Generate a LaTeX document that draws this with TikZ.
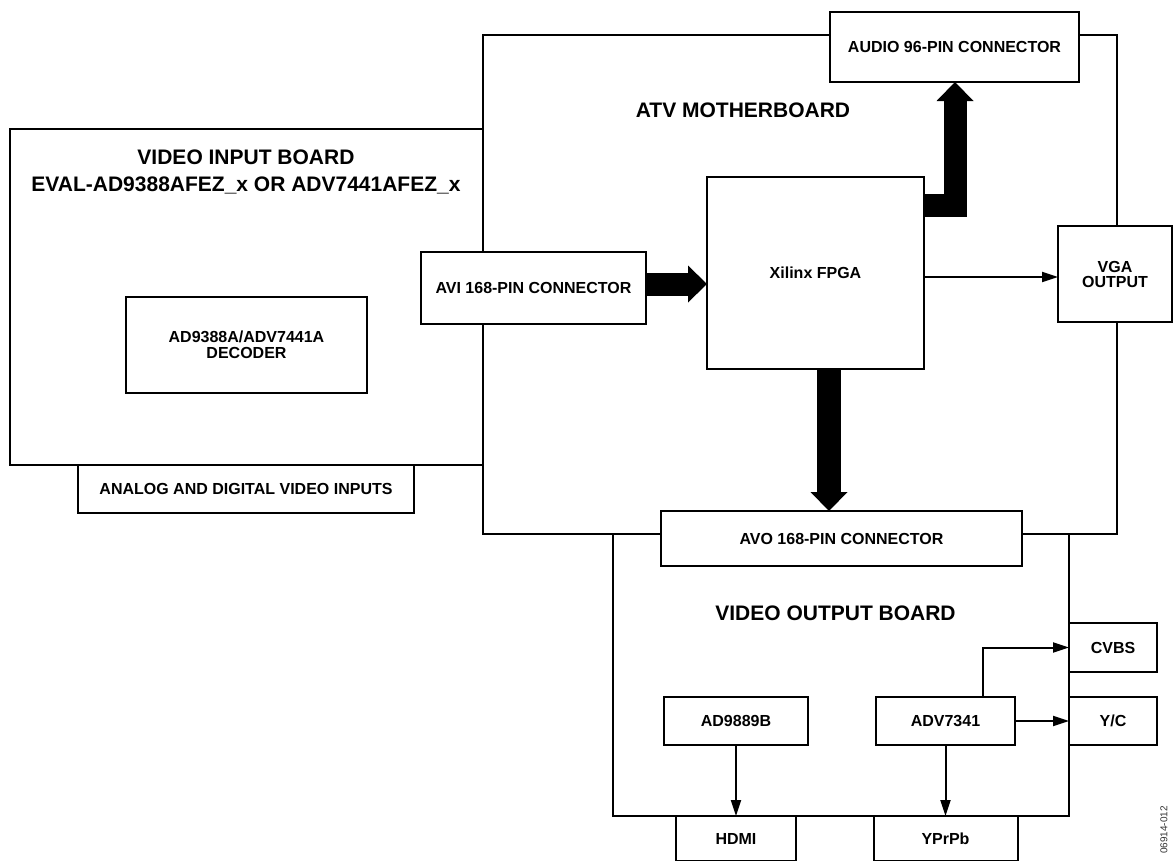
\documentclass[tikz,border=0pt]{standalone}
\usepackage{fontspec}
\setmainfont{Liberation Sans}
\usetikzlibrary{arrows.meta}
\newcommand\dgsmall{\fontsize{16}{16}\selectfont\bfseries}
\newcommand\dgbig{\fontsize{21}{27}\selectfont\bfseries}
\begin{document}
\begin{tikzpicture}[x=1pt,y=-1pt,
  box/.style={draw, line width=2pt, fill=white, inner sep=0pt, outer sep=0pt, align=center, font=\dgsmall},
  title/.style={inner sep=0pt, align=center, font=\dgbig},
  arr/.style={line width=2pt, -{Triangle[length=16pt,width=10pt]}},
  fat/.style={line width=23pt, -{Triangle[length=19pt,width=37pt,line width=0pt]}}]
\clip (0,0) rectangle (1173,860);
\fill[white] (0,0) rectangle (1173,860);
% boards
\node[box, minimum width=634pt, minimum height=499pt] (atv) at (800,284.5) {};
\node[box, minimum width=473pt, minimum height=336pt] (vib) at (246.5,297) {};
\node[box, minimum width=456pt, minimum height=282pt] (vob) at (841,675) {};
% titles
\node[title] (atvt) at (743,110) {ATV MOTHERBOARD};
\node[title] (vibt) at (246,171.5) {VIDEO INPUT BOARD\\EVAL-AD9388AFEZ\_x OR ADV7441AFEZ\_x};
\node[title] (vobt) at (835.5,613) {VIDEO OUTPUT BOARD};
% connectors and blocks
\node[box, minimum width=241pt, minimum height=96pt] (dec) at (246.5,345) {AD9388A/ADV7441A\\DECODER};
\node[box, minimum width=336pt, minimum height=48pt] (ana) at (246,489) {ANALOG AND DIGITAL VIDEO INPUTS};
\node[box, minimum width=225pt, minimum height=72pt] (avi) at (533.5,288) {AVI 168-PIN CONNECTOR};
\node[box, minimum width=217pt, minimum height=192pt] (fpga) at (815.5,273) {Xilinx FPGA};
\node[box, minimum width=249pt, minimum height=70pt] (audio) at (954.5,47) {AUDIO 96-PIN CONNECTOR};
\node[box, minimum width=114pt, minimum height=96pt, font=\fontsize{16}{15}\selectfont\bfseries] (vga) at (1115,274) {VGA\\OUTPUT};
\node[box, minimum width=361pt, minimum height=55pt] (avo) at (841.5,538.5) {AVO 168-PIN CONNECTOR};
\node[box, minimum width=144pt, minimum height=48pt] (ad) at (736,721) {AD9889B};
\node[box, minimum width=139pt, minimum height=48pt] (adv) at (945.5,721) {ADV7341};
\node[box, minimum width=88pt, minimum height=49pt] (cvbs) at (1113,647.5) {CVBS};
\node[box, minimum width=88pt, minimum height=48pt] (yc) at (1113,721) {Y/C};
\node[box, minimum width=120pt, minimum height=45pt] (hdmi) at (736,838.5) {HDMI};
\node[box, minimum width=144pt, minimum height=45pt] (ypb) at (945.5,838.5) {YPrPb};
% fat buses
\coordinate (fatA) at (0,284);
\coordinate (fatL) at (955,205.5);
\coordinate (fatB) at (829,0);
\draw[fat] (avi.east |- fatA) -- (fpga.west |- fatA);
\draw[fat] (fpga.east |- fatL) -| (audio.south -| fatL);
\draw[fat, line width=24pt] (fpga.south -| fatB) -- (avo.north -| fatB);
% thin arrows
\draw[arr] ([yshift=-4pt]fpga.east) -- ([yshift=-4pt]fpga.east -| vga.west);
\draw[arr] (ad.south) -- (hdmi.north);
\draw[arr] (adv.south) -- (ypb.north);
\draw[arr] (adv.east) -- (yc.west);
\coordinate (cvx) at (983,0);
\draw[arr] (adv.north -| cvx) |- (cvbs.west);
% figure id
\node[rotate=90, inner sep=0pt, font=\fontsize{10}{10}\selectfont, text=black!80] (fid) at (1164,830) {06914-012};
\end{tikzpicture}
\end{document}
